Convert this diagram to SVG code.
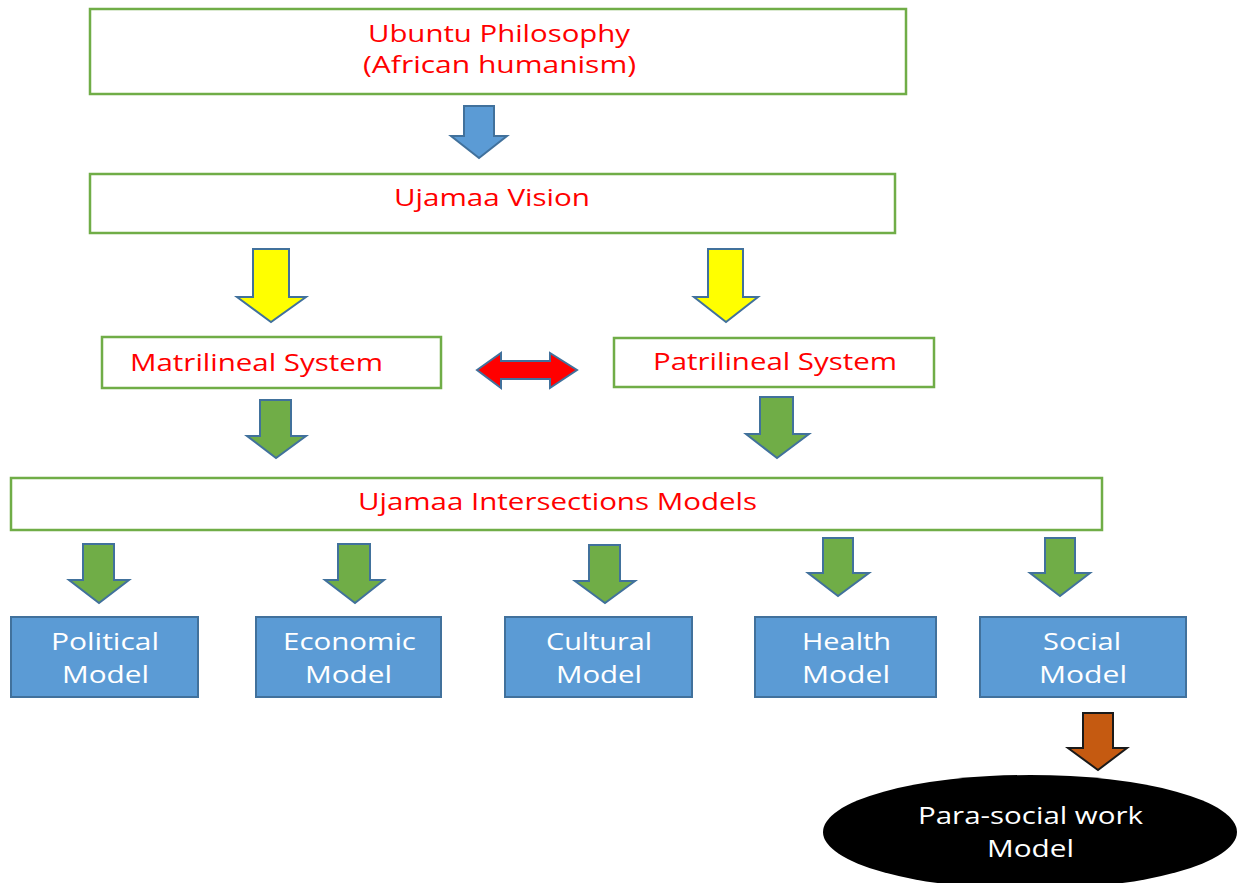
<svg xmlns="http://www.w3.org/2000/svg" width="1245" height="883" viewBox="0 0 1245 883">
<style>
.gbox{fill:#fff;stroke:#70AD47;stroke-width:2.5}
.mbox{fill:#5B9BD5;stroke:#41719C;stroke-width:2}
.red{fill:#FF0000;font-family:"Open Sans","Liberation Sans",sans-serif;font-size:23px}
.wt{fill:#fff;font-family:"Open Sans","Liberation Sans",sans-serif;font-size:23px}
.arr{stroke:#41719C;stroke-width:2;stroke-linejoin:miter}
.blue{fill:#5B9BD5}.yel{fill:#FFFF00}.grn{fill:#70AD47}.rd{fill:#FF0000}
.brn{fill:#C55A11;stroke:#1a1a1a;stroke-width:2}
</style>
<rect width="1245" height="883" fill="#fff"/>
<g id="connectors">
<polygon class="arr blue" points="464,106 494,106 494,136 507,136 479,158 451,136 464,136"/>
<polygon class="arr yel" points="253,249 289,249 289,297 306,297 271,322 237,297 253,297"/>
<polygon class="arr yel" points="708,249 743,249 743,297 758,297 726,322 694,297 708,297"/>
<polygon class="arr rd" points="477,370 501,353 501,361 550,361 550,353 577,370 550,388 550,379 501,379 501,388"/>
<polygon class="arr grn" points="260,400 291,400 291,436 306,436 276,458 247,436 260,436"/>
<polygon class="arr grn" points="760,397 793,397 793,434 809,434 777,458 746,434 760,434"/>
<polygon class="arr grn" points="83,544 114,544 114,580 129,580 99,603 69,580 83,580"/>
<polygon class="arr grn" points="338,544 370,544 370,580 384,580 355,603 325,580 338,580"/>
<polygon class="arr grn" points="589,545 620,545 620,581 635,581 605,603 575,581 589,581"/>
<polygon class="arr grn" points="823,538 853,538 853,573 869,573 838,596 808,573 823,573"/>
<polygon class="arr grn" points="1045,538 1075,538 1075,573 1090,573 1060,596 1030,573 1045,573"/>
<polygon class="brn" points="1083,713 1113,713 1113,748 1127,748 1098,770 1068,748 1083,748"/>
</g>
<g id="ubuntu">
<rect class="gbox" x="90" y="9" width="816" height="85"/>
<text class="red" x="368" y="42" textLength="262" lengthAdjust="spacingAndGlyphs">Ubuntu Philosophy</text>
<text class="red" x="363" y="73" textLength="273" lengthAdjust="spacingAndGlyphs">(African humanism)</text>
</g>
<g id="vision">
<rect class="gbox" x="90" y="174" width="805" height="59"/>
<text class="red" x="394" y="206" textLength="196" lengthAdjust="spacingAndGlyphs">Ujamaa Vision</text>
</g>
<g id="matrilineal">
<rect class="gbox" x="102" y="337" width="339" height="51"/>
<text class="red" x="130" y="371" textLength="253" lengthAdjust="spacingAndGlyphs">Matrilineal System</text>
</g>
<g id="patrilineal">
<rect class="gbox" x="614" y="338" width="320" height="49"/>
<text class="red" x="653" y="370" textLength="244" lengthAdjust="spacingAndGlyphs">Patrilineal System</text>
</g>
<g id="intersections">
<rect class="gbox" x="11" y="478" width="1091" height="52"/>
<text class="red" x="358" y="510" textLength="399" lengthAdjust="spacingAndGlyphs">Ujamaa Intersections Models</text>
</g>
<g id="political">
<rect class="mbox" x="11" y="617" width="187" height="80"/>
<text class="wt" x="51" y="650" textLength="108" lengthAdjust="spacingAndGlyphs">Political</text>
<text class="wt" x="62" y="683" textLength="87" lengthAdjust="spacingAndGlyphs">Model</text>
</g>
<g id="economic">
<rect class="mbox" x="256" y="617" width="185" height="80"/>
<text class="wt" x="283" y="650" textLength="133" lengthAdjust="spacingAndGlyphs">Economic</text>
<text class="wt" x="305" y="683" textLength="87" lengthAdjust="spacingAndGlyphs">Model</text>
</g>
<g id="cultural">
<rect class="mbox" x="505" y="617" width="187" height="80"/>
<text class="wt" x="546" y="650" textLength="106" lengthAdjust="spacingAndGlyphs">Cultural</text>
<text class="wt" x="556" y="683" textLength="86" lengthAdjust="spacingAndGlyphs">Model</text>
</g>
<g id="health">
<rect class="mbox" x="755" y="617" width="181" height="80"/>
<text class="wt" x="802" y="650" textLength="89" lengthAdjust="spacingAndGlyphs">Health</text>
<text class="wt" x="802" y="683" textLength="88" lengthAdjust="spacingAndGlyphs">Model</text>
</g>
<g id="social">
<rect class="mbox" x="980" y="617" width="206" height="80"/>
<text class="wt" x="1043" y="650" textLength="78" lengthAdjust="spacingAndGlyphs">Social</text>
<text class="wt" x="1039" y="683" textLength="88" lengthAdjust="spacingAndGlyphs">Model</text>
</g>
<g id="parasocial">
<ellipse cx="1030" cy="832" rx="207" ry="57" fill="#000"/>
<text class="wt" x="918" y="824" textLength="225" lengthAdjust="spacingAndGlyphs">Para-social work</text>
<text class="wt" x="987" y="857" textLength="87" lengthAdjust="spacingAndGlyphs">Model</text>
</g>
</svg>
